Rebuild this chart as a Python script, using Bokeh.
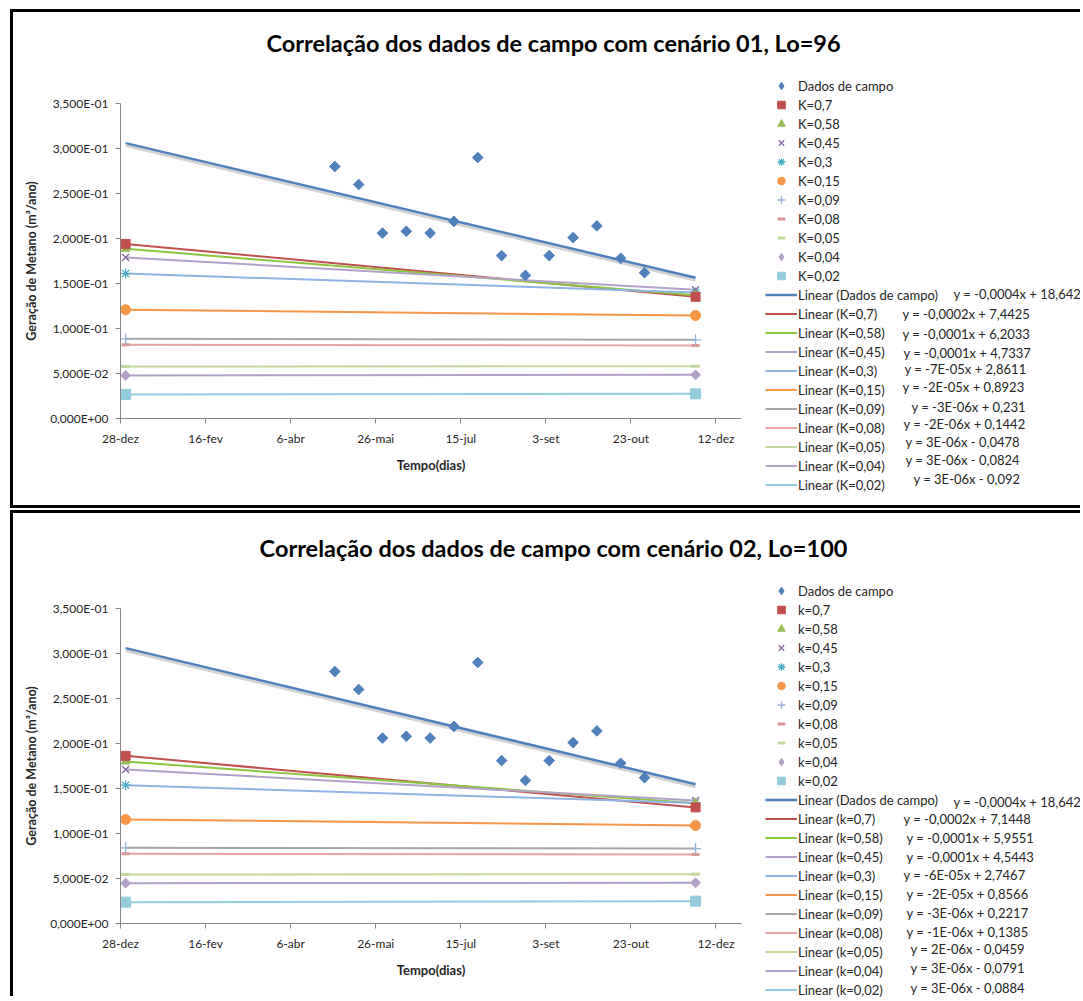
import numpy as np
from bokeh.plotting import figure
from bokeh.models import Legend, LegendItem, Label, FixedTicker, ColumnDataSource, Dodge
from bokeh.layouts import column
from bokeh.embed import file_html
from bokeh.resources import INLINE

# ---------------- data ----------------
x_tick_days = [0, 50, 100, 150, 200, 250, 300, 350]
x_tick_labels = ["28-dez", "16-fev", "6-abr", "26-mai", "15-jul", "3-set", "23-out", "12-dez"]
y_ticks = [0.0, 0.05, 0.10, 0.15, 0.20, 0.25, 0.30, 0.35]
y_tick_labels = ["0,000E+00", "5,000E-02", "1,000E-01", "1,500E-01", "2,000E-01",
                 "2,500E-01", "3,000E-01", "3,500E-01"]

field_days = [126, 140, 154, 168, 182, 196, 210, 224, 238, 252, 266, 280, 294, 308]
field_values = [0.280, 0.260, 0.206, 0.208, 0.206, 0.219, 0.290, 0.181, 0.159, 0.181,
                0.201, 0.214, 0.178, 0.162]
end_days = [3, 338]

s1_title = "Correlação dos dados de campo com cenário 01, Lo=96"
s1_labels = ["K=0,7", "K=0,58", "K=0,45", "K=0,3", "K=0,15", "K=0,09", "K=0,08", "K=0,05", "K=0,04", "K=0,02"]
s1_start = [0.194, 0.1886, 0.179, 0.161, 0.1208, 0.0885, 0.0819, 0.0578, 0.0478, 0.0267]
s1_end = [0.1352, 0.1370, 0.1430, 0.1400, 0.1144, 0.0874, 0.0811, 0.0581, 0.0485, 0.0274]
s1_field_trend = [0.306, 0.1563]
s1_equations = ["y = -0,0004x + 18,642", "y = -0,0002x + 7,4425", "y = -0,0001x + 6,2033",
                "y = -0,0001x + 4,7337", "y = -7E-05x + 2,8611", "y = -2E-05x + 0,8923",
                "y = -3E-06x + 0,231", "y = -2E-06x + 0,1442", "y = 3E-06x - 0,0478",
                "y = 3E-06x - 0,0824", "y = 3E-06x - 0,092"]

s2_title = "Correlação dos dados de campo com cenário 02, Lo=100"
s2_labels = ["k=0,7", "k=0,58", "k=0,45", "k=0,3", "k=0,15", "k=0,09", "k=0,08", "k=0,05", "k=0,04", "k=0,02"]
s2_start = [0.1863, 0.1800, 0.1711, 0.1537, 0.1156, 0.0841, 0.0774, 0.0544, 0.0448, 0.0237]
s2_end = [0.1290, 0.1337, 0.1367, 0.1340, 0.1089, 0.0833, 0.0767, 0.0548, 0.0452, 0.0248]
s2_field_trend = [0.306, 0.1548]
s2_equations = ["y = -0,0004x + 18,642", "y = -0,0002x + 7,1448", "y = -0,0001x + 5,9551",
                "y = -0,0001x + 4,5443", "y = -6E-05x + 2,7467", "y = -2E-05x + 0,8566",
                "y = -3E-06x + 0,2217", "y = -1E-06x + 0,1385", "y = 2E-06x - 0,0459",
                "y = 3E-06x - 0,0791", "y = 3E-06x - 0,0884"]

# ---------------- styles / layout ----------------
field_color = "#4F81BD"
markers = ["square", "triangle", "x", "asterisk", "circle", "cross", "dash", "dash", "square", "square"]
legend_markers = ["square", "triangle", "x", "asterisk", "circle", "cross", "dash", "dash", "diamond", "square"]
marker_angles = [0, 0, 0, 0, 0, 0, 0, 0, np.pi / 4, 0]
marker_sizes = [9, 9, 10, 10, 10, 11, 8, 9, 7, 10]
marker_lw = [1, 1, 1.3, 1.3, 1, 1.3, 3, 3, 1, 1]
marker_colors = ["#C0504D", "#9BBB59", "#8064A2", "#4BACC6", "#F79646", "#95B3D7",
                 "#D99694", "#C3D69B", "#B3A2C7", "#93CDDD"]
line_colors = ["#C0504D", "#8CC63F", "#B3A2C7", "#8DB4E2", "#F79646", "#A6A6A6",
               "#E6A4A2", "#C3D69B", "#B3A2C7", "#93CDDD"]

# page-pixel layout of the top panel (the bottom one is the same, shifted)
s1_eq_pos = [(953, 293), (902, 313), (902, 333), (903, 352), (904, 368), (902, 386),
             (911, 406), (903, 423), (905, 441), (905, 459), (913, 478)]
s2_eq_pos = [(953, 296), (903, 313), (906, 332), (906, 351), (903, 369), (906, 388),
             (906, 407), (906, 426), (910, 443), (910, 462), (910, 482)]
FONT = "Lato"
FRAME_L, FRAME_R = 120, 741     # x of day 0 and day 365
FRAME_T, FRAME_B = 103, 418     # y of 0.35 and 0
X_MAX, Y_MAX = 365, 0.35
CANVAS_X0, CANVAS_X1 = 13, 1083
LEGEND_TOP = 76
ROW_H = 19
TITLE_XY = (553, 42)


def make_panel(title, labels, starts, ends, field_trend, equations, eq_pos,
               shift, canvas_top, height, margin, styles):
    kx = (FRAME_R - FRAME_L) / X_MAX
    ky = (FRAME_B - FRAME_T) / Y_MAX
    y0_px = FRAME_B + shift

    def dx(px):
        return (px - FRAME_L) / kx

    def dy(py):
        return (y0_px - py) / ky

    canvas_bottom = canvas_top + height
    p = figure(width=CANVAS_X1 - CANVAS_X0, height=height,
               x_range=(dx(CANVAS_X0), dx(CANVAS_X1)),
               y_range=(dy(canvas_bottom), dy(canvas_top)),
               output_backend="svg", toolbar_location=None,
               min_border=0, styles=styles, margin=margin)
    p.outline_line_color = None
    p.xgrid.visible = False
    p.ygrid.visible = False

    for ax in (p.xaxis[0], p.yaxis[0]):
        ax.fixed_location = 0
        ax.axis_line_color = "#868686"
        ax.major_tick_line_color = "#868686"
        ax.minor_tick_line_color = None
        ax.major_tick_in = 0
        ax.major_tick_out = 5
        ax.major_label_text_font = FONT
        ax.major_label_text_font_size = "12px"
        ax.major_label_text_color = "#262626"
        ax.axis_label_text_font = FONT
        ax.axis_label_text_font_style = "bold"
        ax.axis_label_text_color = "#262626"
        ax.major_label_standoff = 7
        ax.axis_label_standoff = 8

    p.xaxis.bounds = (0, X_MAX)
    p.yaxis.bounds = (0, Y_MAX)
    p.xaxis.ticker = FixedTicker(ticks=x_tick_days)
    p.xaxis.major_label_overrides = dict(zip(x_tick_days, x_tick_labels))
    p.xaxis.axis_label = "Tempo(dias)"
    p.xaxis.axis_label_text_font_size = "13px"
    p.yaxis.ticker = FixedTicker(ticks=y_ticks)
    p.yaxis.major_label_overrides = dict(zip(y_ticks, y_tick_labels))
    p.yaxis.axis_label = "Geração de Metano (m³/ano)"
    p.yaxis.axis_label_text_font_size = "12.5px"

    # trend lines
    trend_src = ColumnDataSource(dict(x=end_days, y=field_trend))
    p.line("x", {"field": "y", "transform": Dodge(value=-2.5 / ky)}, source=trend_src,
           line_color="#808080", line_alpha=0.35, line_width=3)
    field_line = p.line("x", "y", source=trend_src, line_color=field_color, line_width=2.5)
    line_rs = []
    for i in range(len(labels)):
        src = ColumnDataSource(dict(x=end_days, y=[starts[i], ends[i]]))
        line_rs.append(p.line("x", "y", source=src, line_color=line_colors[i], line_width=2))

    # markers (a diamond glyph drawn underneath each rotated square gives the legend its diamond)
    legend_rs = [None] * len(labels)
    for i in reversed(range(len(labels))):
        src = ColumnDataSource(dict(x=end_days, y=[starts[i], ends[i]]))
        r = None
        if legend_markers[i] != markers[i]:
            r = p.scatter("x", "y", source=src, marker=legend_markers[i], size=marker_sizes[i],
                          fill_color=marker_colors[i], line_color=marker_colors[i])
        m = p.scatter("x", "y", source=src, marker=markers[i], size=marker_sizes[i],
                      angle=marker_angles[i], fill_color=marker_colors[i],
                      line_color=marker_colors[i], line_width=marker_lw[i])
        legend_rs[i] = r if r is not None else m
    field_leg = p.scatter(field_days, field_values, marker="diamond", size=9,
                          fill_color=field_color, line_color=field_color)
    p.scatter(field_days, field_values, marker="square", angle=np.pi / 4, size=7.5,
              fill_color=field_color, line_color=field_color)

    items = [LegendItem(label="Dados de campo", renderers=[field_leg])]
    items += [LegendItem(label=labels[i], renderers=[legend_rs[i]]) for i in range(len(labels))]
    items.append(LegendItem(label="Linear (Dados de campo)", renderers=[field_line]))
    items += [LegendItem(label=f"Linear ({labels[i]})", renderers=[line_rs[i]])
              for i in range(len(labels))]
    leg_h = ROW_H * len(items)
    leg_top = LEGEND_TOP + shift
    legend = Legend(items=items, location=(765 - CANVAS_X0, canvas_bottom - (leg_top + leg_h)),
                    glyph_width=32, glyph_height=ROW_H, label_height=ROW_H, spacing=0,
                    padding=0, margin=0, label_standoff=1,
                    border_line_alpha=0, background_fill_alpha=0,
                    label_text_font=FONT, label_text_font_size="13px",
                    label_text_color="#262626")
    p.add_layout(legend, "center")

    p.add_layout(Label(x=dx(TITLE_XY[0]), y=dy(TITLE_XY[1] + shift), text=title,
                       text_align="center", text_baseline="middle", text_font=FONT,
                       text_font_style="bold", text_font_size="23.5px", text_color="#000000"))
    for txt, (ex, ey) in zip(equations, eq_pos):
        p.add_layout(Label(x=dx(ex), y=dy(ey + shift), text=txt,
                           text_align="left", text_baseline="middle", text_font=FONT,
                           text_font_size="13px", text_color="#262626"))
    return p


p1 = make_panel(s1_title, s1_labels, s1_start, s1_end, s1_field_trend, s1_equations, s1_eq_pos,
                0, 12, 499, (9, 0, 0, 10),
                {"border-top": "3px solid #000", "border-left": "3px solid #000",
                 "border-bottom": "3px solid #000"})
p2 = make_panel(s2_title, s2_labels, s2_start, s2_end, s2_field_trend, s2_equations, s2_eq_pos,
                505, 513, 486, (2, 0, 0, 10),
                {"border-top": "3px solid #000", "border-left": "3px solid #000"})

layout = column(p1, p2)
open("out.html", "w").write(file_html(layout, INLINE))
